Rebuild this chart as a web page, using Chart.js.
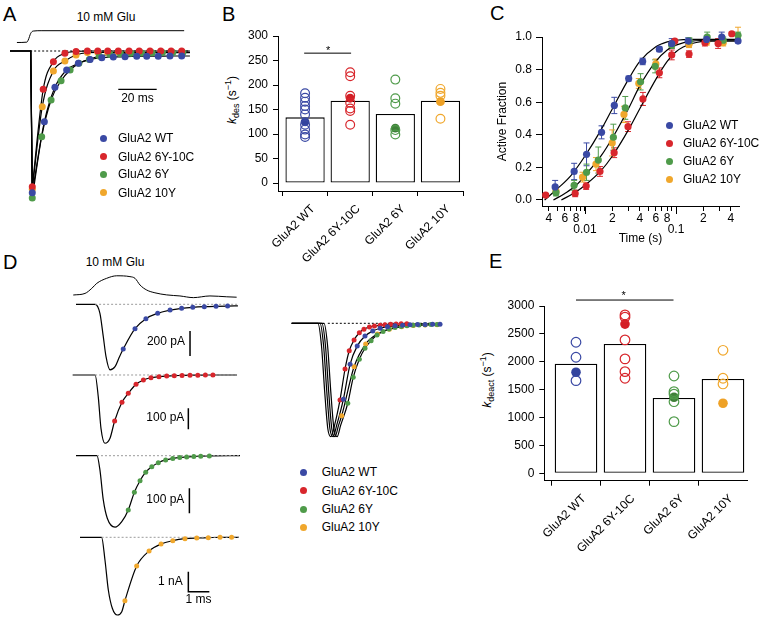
<!DOCTYPE html>
<html><head><meta charset="utf-8">
<script src="https://cdn.jsdelivr.net/npm/chart.js@4.4.1/dist/chart.umd.min.js"></script>
<style>
body{margin:0;background:#fff;width:760px;height:617px;position:relative;overflow:hidden;font-family:"Liberation Sans",Arial,Helvetica,sans-serif;color:#000}
canvas{position:absolute}
.pl{position:absolute;font-size:20px;line-height:20px}
.t12{position:absolute;font-size:12px;line-height:12px;white-space:nowrap}
.ctr{transform:translate(-50%,-50%)}
.ldot{position:absolute;width:7px;height:7px;border-radius:50%}
.rot{position:absolute;font-size:12px;line-height:12px;white-space:nowrap;transform:translate(-50%,-50%) rotate(-90deg)}
.sub{font-size:9px;position:relative;top:3px}
.sup{font-size:9px;position:relative;top:-5px}
</style></head><body>
<div class="pl" style="left:3px;top:4px">A</div>
<div class="pl" style="left:222px;top:4px">B</div>
<div class="pl" style="left:490px;top:3px">C</div>
<div class="pl" style="left:3px;top:252px">D</div>
<div class="pl" style="left:489px;top:251px">E</div>
<div class="t12 ctr" style="left:106px;top:17px">10 mM Glu</div>
<div class="t12 ctr" style="left:115px;top:262px">10 mM Glu</div>
<div class="rot" style="left:232px;top:100px"><i>k</i><span class="sub">des</span> (s<span class="sup">−1</span>)</div>
<div class="rot" style="left:487px;top:380px"><i>k</i><span class="sub">deact</span> (s<span class="sup">−1</span>)</div>
<script>
// ---------------- DATA ----------------
const groups = ['GluA2 WT', 'GluA2 6Y-10C', 'GluA2 6Y', 'GluA2 10Y'];

// Panel A: glutamate step (normalized) and normalized currents, time in ms
const aGluT = [-7.6, -2.4, -1.7, -0.4, 0.9, 5.0, 79.5];
const aGluV = [0, 0.03, 0.21, 0.78, 0.97, 1.0, 1.0];
const aWT_t = [0.4, 6.7, 12.2, 18.3, 24.4, 30.5, 36.6, 42.6, 48.7, 54.8, 60.0, 66.0, 72.1, 78.2];
const aWT_y = [-0.964, -0.481, -0.247, -0.129, -0.084, -0.057, -0.046, -0.040, -0.039, -0.036, -0.035, -0.035, -0.034, -0.034];
const a6Y10C_t = [0.4, 6.1, 11.4, 17.4, 23.2, 29.1, 34.5, 39.7, 45.2, 50.8, 56.1, 61.7, 67.3, 72.7, 78.2];
const a6Y10C_y = [-0.923, -0.261, -0.073, -0.016, -0.003, 0, 0, 0, 0, 0, 0, 0, 0, 0, 0];
const a6Y_t = [0.4, 5.3, 10.2, 15.4, 20.1, 24.7, 30.1, 35.3, 40.9, 46.3, 51.8, 57.3, 62.8, 68.2, 73.6, 78.8];
const a6Y_y = [-1.0, -0.583, -0.333, -0.202, -0.129, -0.084, -0.057, -0.034, -0.023, -0.018, -0.015, -0.013, -0.012, -0.011, -0.011, -0.011];
const a10Y_t = [0.4, 5.6, 11.4, 17.4, 23.2, 29.1, 34.5, 39.7, 45.2, 50.8];
const a10Y_y = [-0.94, -0.379, -0.136, -0.068, -0.027, -0.011, -0.009, -0.009, -0.009, -0.009];
const aTraceStart = -11.2, aTraceOnset = -0.4, aTraceEnd = 82.5;
const aBaseT = [-0.7, 82.5];
const aBarT = [45.2, 65.2];   // 20 ms scale bar
const aBarY = [-0.261, -0.261];

// Panel B: k_des (s^-1)
const kdesMean = [134, 168, 141, 168];
const kdesWT = [183, 174, 166, 157, 150, 140, 119, 109, 99, 94];
const kdes6Y10C = [226, 218, 178, 164, 152, 147, 119];
const kdes6Y = [211, 173, 162, 108, 99];
const kdes10Y = [192, 184, 178, 131];
const kdesExample = [125, 173, 112, 166];
const kdesTicks = [0, 50, 100, 150, 200, 250, 300];
const kdesSig = [265, 265];

// Panel C: recovery from desensitization
const cTicks = [0.004,0.005,0.006,0.007,0.008,0.009,0.01,0.02,0.03,0.04,0.05,0.06,0.07,0.08,0.09,0.1,0.2,0.3,0.4];
const cTickLabels = ['4','','6','','8','',['','0.01'],'2','','4','','6','','8','',['','0.1'],'2','','4'];
const cMajorTicks = [0.01, 0.1];
const cYTicks = [0, 0.2, 0.4, 0.6, 0.8, 1.0];
const cWT_t = [0.0047, 0.0076, 0.0104, 0.0152, 0.021, 0.0302, 0.043, 0.0656, 0.0897, 0.136, 0.217, 0.318, 0.48];
const cWT_f = [0.08, 0.175, 0.28, 0.415, 0.58, 0.745, 0.85, 0.925, 0.96, 0.975, 0.985, 1.0, 0.975];
const cWT_e = [0.04, 0.05, 0.07, 0.04, 0.05, 0.015, 0.02, 0.015, 0.03, 0.02, 0.02, 0.03, 0.01];
const c6Y10C_t = [0.0037, 0.0078, 0.0103, 0.0146, 0.0209, 0.0297, 0.0433, 0.0656, 0.0897, 0.097, 0.139, 0.208, 0.29, 0.41];
const c6Y10C_f = [0.03, 0.04, 0.085, 0.175, 0.29, 0.45, 0.62, 0.78, 0.89, 0.975, 0.895, 0.965, 0.96, 1.02];
const c6Y10C_e = [0.01, 0.02, 0.02, 0.03, 0.03, 0.03, 0.04, 0.03, 0.03, 0.01, 0.02, 0.02, 0.03, 0.01];
const c6Y_t = [0.0048, 0.0076, 0.0104, 0.014, 0.0205, 0.0277, 0.0408, 0.059, 0.0897, 0.14, 0.22, 0.33, 0.48];
const c6Y_f = [0.045, 0.09, 0.17, 0.245, 0.385, 0.565, 0.725, 0.82, 0.95, 0.975, 1.0, 0.98, 1.01];
const c6Y_e = [0.02, 0.03, 0.05, 0.08, 0.08, 0.07, 0.05, 0.04, 0.02, 0.02, 0.03, 0.02, 0.02];
const c10Y_t = [0.0048, 0.0094, 0.0132, 0.0199, 0.0268, 0.039, 0.06, 0.09, 0.139, 0.217, 0.33, 0.48];
const c10Y_f = [0.055, 0.14, 0.22, 0.35, 0.525, 0.715, 0.835, 0.955, 0.955, 0.97, 0.965, 1.04];
const c10Y_e = [0.02, 0.03, 0.04, 0.08, 0.05, 0.03, 0.03, 0.02, 0.02, 0.02, 0.02, 0.02];
const cFitWT_t = [0.0036, 0.005, 0.007, 0.01, 0.015, 0.02, 0.03, 0.04, 0.06, 0.08, 0.1, 0.15, 0.25, 0.48];
const cFitWT_f = [0.0, 0.07, 0.15, 0.27, 0.43, 0.56, 0.74, 0.85, 0.94, 0.97, 0.98, 0.985, 0.985, 0.985];
const cFitMid_t = [0.0045, 0.006, 0.008, 0.01, 0.015, 0.02, 0.03, 0.04, 0.06, 0.08, 0.1, 0.15, 0.25, 0.48];
const cFitMid_f = [0.0, 0.04, 0.09, 0.15, 0.27, 0.38, 0.56, 0.70, 0.85, 0.92, 0.95, 0.975, 0.98, 0.98];
const cFitRed_t = [0.0055, 0.008, 0.01, 0.015, 0.02, 0.03, 0.04, 0.06, 0.08, 0.1, 0.15, 0.25, 0.48];
const cFitRed_f = [0.0, 0.05, 0.09, 0.18, 0.27, 0.43, 0.56, 0.74, 0.85, 0.91, 0.96, 0.975, 0.975];

// Panel D: deactivation, time in ms, currents in pA
const dGluT = [0.06, 0.62, 0.94, 1.18, 1.65, 2.13, 2.76, 3.0, 3.24, 3.56, 3.95, 4.51, 5.14, 5.78, 6.57, 7.37, 7.84];
const dGluV = [0.095, 0.17, 0.41, 0.65, 0.89, 1.01, 0.97, 0.89, 0.57, 0.33, 0.2, 0.1, 0.05, -0.03, 0.05, 0.01, -0.01];
const dWT_onT = [0.19, 1.1, 1.33, 1.49, 1.62, 1.81, 2.05, 2.25];
const dWT_onI = [0, 0, -72, -259, -419, -524, -499, -424];
const dWT_t = [2.44, 3.0, 3.52, 4.08, 4.67, 5.22, 5.75, 6.3, 6.86, 7.41];
const dWT_i = [-358, -195, -115, -72, -46, -32, -24, -19, -16, -14];
const dWT_end = [7.9, -13];
const d6Y10C_onT = [0.03, 1.1, 1.25, 1.38, 1.57, 1.81];
const d6Y10C_onI = [0, 0, -103, -254, -325, -301];
const d6Y10C_t = [2.03, 2.38, 2.68, 3.05, 3.40, 3.76, 4.14, 4.51, 4.87, 5.24, 5.62, 5.99, 6.35, 6.71];
const d6Y10C_i = [-219, -130, -87, -44, -24, -13, -8, -5, -3, -2, -1, -1, 0, 0];
const d6Y10C_end = [7.86, 0];
const d6Y_onT = [0.19, 1.19, 1.33, 1.49, 1.68, 2.05, 2.37];
const d6Y_onI = [0, 0, -57, -177, -250, -286, -264];
const d6Y_t = [2.68, 2.97, 3.24, 3.51, 3.80, 4.11, 4.46, 4.80, 5.13, 5.46, 5.80, 6.13, 6.54];
const d6Y_i = [-217, -146, -100, -66, -44, -28, -17, -11, -7, -5, -3, -2, -1];
const d6Y_end = [8.0, 0];
const d10Y_onT = [0.38, 1.41, 1.57, 1.73, 1.92, 2.16, 2.37];
const d10Y_onI = [0, 0, -1135, -2635, -3550, -3885, -3720];
const d10Y_t = [2.52, 3.08, 3.67, 4.24, 4.80, 5.38, 5.94, 6.49, 7.05, 7.60];
const d10Y_i = [-3170, -1435, -685, -335, -170, -70, -35, -20, 0, 0];
const d10Y_end = [7.95, 0];
// scale bars (pA / ms)
const dBar1 = {t: 5.62, i: [-214, -414]};   // 200 pA
const dBar2 = {t: 5.54, i: [-158, -258]};   // 100 pA
const dBar3 = {t: 5.59, i: [-130, -230]};   // 100 pA
const dBar4 = {t: 5.54, i: [-1720, -2720], tEnd: 6.54}; // 1 nA, 1 ms

// Panel D overlay (normalized)
const ovOnsetY = [0, 0, -0.2, -0.6, -0.93, -1.0, -0.9];
const ovWT_onT = [0.08, 1.43, 1.6, 1.75, 1.9, 2.05, 2.22];
const ovWT_t = [2.54, 2.86, 3.2, 3.57, 3.94, 4.29, 4.64, 5.0, 5.36, 5.71, 6.07, 6.43, 6.79, 7.14];
const ovWT_y = [-0.67, -0.362, -0.2, -0.112, -0.068, -0.044, -0.03, -0.022, -0.017, -0.013, -0.011, -0.01, -0.009, -0.009];
const ov6Y10C_onT = [0.08, 1.33, 1.5, 1.65, 1.8, 1.95, 2.12];
const ov6Y10C_t = [2.38, 2.62, 2.82, 3.05, 3.30, 3.52, 3.78, 4.02, 4.29, 4.52, 4.79, 5.05, 5.29, 5.56];
const ov6Y10C_y = [-0.676, -0.403, -0.242, -0.147, -0.083, -0.053, -0.033, -0.024, -0.017, -0.012, -0.009, -0.007, -0.005, -0.004];
const ov6Y_onT = [0.08, 1.62, 1.79, 1.94, 2.09, 2.24, 2.41];
const ov6Y_t = [2.75, 3.01, 3.3, 3.57, 3.86, 4.14, 4.43, 4.71, 5.0, 5.29, 5.57, 5.86, 6.14, 6.43, 6.71, 7.0];
const ov6Y_y = [-0.705, -0.476, -0.317, -0.22, -0.153, -0.103, -0.072, -0.05, -0.037, -0.028, -0.022, -0.018, -0.015, -0.013, -0.011, -0.01];
const ov10Y_onT = [0.08, 1.52, 1.69, 1.84, 1.99, 2.14, 2.31];
const ov10Y_t = [2.46, 3.05, 3.6, 4.16, 4.73, 5.32, 5.87, 6.43, 7.0];
const ov10Y_y = [-0.815, -0.383, -0.183, -0.094, -0.053, -0.03, -0.02, -0.015, -0.012];
const ovEnd = 7.2;
const ovBaseT = [1.8, 7.2];

// Panel E: k_deact (s^-1)
const kdeactMean = [1965, 2320, 1350, 1690];
const kdeactWT = [2350, 2081, 1661];
const kdeact6Y10C = [2840, 2800, 2392, 2051, 1823, 1704];
const kdeact6Y = [1745, 1464, 1420, 1284, 926];
const kdeact10Y = [2206, 1704, 1602];
const kdeactExample = [1812, 2675, 1363, 1256];
const kdeactTicks = [0, 500, 1000, 1500, 2000, 2500, 3000];
const kdeactSig = [3107, 3107];

// ---------------- STYLE / HELPERS ----------------
const FONT = '"Liberation Sans", Arial, Helvetica, sans-serif';
const colors = ['#3a49a4', '#d8262c', '#4f9b4a', '#f0a72c'];
const fillColors = ['#33449e', '#d31f26', '#3f8139', '#eea126'];
Chart.defaults.font.family = FONT;
Chart.defaults.font.size = 12;
Chart.defaults.color = '#000';
Chart.defaults.plugins.legend.display = false;
Chart.defaults.plugins.tooltip.enabled = false;

function makeCanvas(left, top, w, h) {
  const c = document.createElement('canvas');
  c.width = w; c.height = h;
  c.style.left = left + 'px'; c.style.top = top + 'px';
  c.style.width = w + 'px'; c.style.height = h + 'px';
  document.body.appendChild(c);
  return c;
}
const pts = (xs, ys) => xs.map((x, i) => ({x, y: ys[i]}));
function lineDS(data, extra) {
  return Object.assign({type: 'line', data, borderColor: '#000', borderWidth: 1.2, pointRadius: 0,
    fill: false, cubicInterpolationMode: 'monotone', clip: false, order: 2}, extra || {});
}
function straightDS(data, extra) {
  return lineDS(data, Object.assign({cubicInterpolationMode: 'default', tension: 0}, extra || {}));
}
function dotDS(data, color, r, extra) {
  return Object.assign({type: 'line', data, showLine: false, pointRadius: r, pointBackgroundColor: color,
    pointBorderColor: color, pointBorderWidth: 0, backgroundColor: color, borderColor: color, clip: false, order: 1}, extra || {});
}
function openDS(data, color, r) {
  return {type: 'line', data, showLine: false, pointRadius: r, pointBackgroundColor: 'rgba(0,0,0,0)',
    pointBorderColor: color, pointBorderWidth: 1.2, borderColor: color, clip: false, order: 1};
}
function hidden(min, max, extra) { return Object.assign({type: 'linear', display: false, min, max, bounds: 'data'}, extra || {}); }
function notes(items) {
  return {id: 'notes', afterDatasetsDraw(chart) {
    const ctx = chart.ctx; ctx.save();
    for (const n of items) {
      const xs = chart.scales[n.xAxis || 'x'], ys = chart.scales[n.yAxis || 'y'];
      ctx.font = (n.size || 12) + 'px ' + FONT;
      ctx.fillStyle = '#000';
      ctx.textAlign = n.align || 'center';
      ctx.textBaseline = n.baseline || 'middle';
      ctx.fillText(n.text, xs.getPixelForValue(n.x), ys.getPixelForValue(n.y));
    }
    ctx.restore();
  }};
}
const errorBars = {id: 'errorBars', beforeDatasetsDraw(chart) {
  const ctx = chart.ctx, ys = chart.scales.y;
  chart.data.datasets.forEach((ds, i) => {
    if (!ds.errors) return;
    const meta = chart.getDatasetMeta(i);
    ctx.save(); ctx.strokeStyle = ds.borderColor; ctx.lineWidth = 1;
    meta.data.forEach((p, j) => {
      const v = ds.data[j].y, e = ds.errors[j];
      const y1 = ys.getPixelForValue(v - e), y2 = ys.getPixelForValue(v + e);
      ctx.beginPath();
      ctx.moveTo(p.x, y1); ctx.lineTo(p.x, y2);
      ctx.moveTo(p.x - 3, y1); ctx.lineTo(p.x + 3, y1);
      ctx.moveTo(p.x - 3, y2); ctx.lineTo(p.x + 3, y2);
      ctx.stroke();
    });
    ctx.restore();
  });
}};
// longer tick marks for the decades of the log axis
const majorTicks = {id: 'majorTicks', afterDraw(chart) {
  const xs = chart.scales.x, ctx = chart.ctx;
  ctx.save(); ctx.strokeStyle = '#000'; ctx.lineWidth = 1;
  cMajorTicks.forEach(v => {
    const px = Math.round(xs.getPixelForValue(v)) + 0.5;
    ctx.beginPath(); ctx.moveTo(px, xs.top); ctx.lineTo(px, xs.top + 8); ctx.stroke();
  });
  ctx.restore();
}};
const base = {responsive: false, devicePixelRatio: 1, animation: false, events: []};
function legend(cx, tx, ys) {
  groups.forEach((g, i) => {
    const d = document.createElement('div');
    d.className = 'ldot'; d.style.left = (cx - 3.5) + 'px'; d.style.top = (ys[i] - 3.5) + 'px';
    d.style.background = colors[i];
    document.body.appendChild(d);
    const t = document.createElement('div');
    t.className = 't12'; t.textContent = g; t.style.left = tx + 'px'; t.style.top = (ys[i] - 6) + 'px';
    document.body.appendChild(t);
  });
}

// ---------------- PANEL A ----------------
const aSeries = [[aWT_t, aWT_y], [a6Y10C_t, a6Y10C_y], [a6Y_t, a6Y_y], [a10Y_t, a10Y_y]];
new Chart(makeCanvas(8, 25, 185, 190), {
  type: 'line',
  data: {datasets: [
    lineDS(pts(aGluT, aGluV), {yAxisID: 'yg', borderWidth: 1}),
    straightDS(pts(aBaseT, [0, 0]), {borderDash: [2, 2], borderWidth: 1}),
    ...aSeries.map(s => straightDS(pts([aTraceStart, aTraceOnset, s[0][0]], [0, 0, s[1][0]]))),
    ...aSeries.map(s => lineDS(pts(s[0].concat([aTraceEnd]), s[1].concat([s[1][s[1].length - 1]])))),
    ...aSeries.map((s, i) => dotDS(pts(s[0], s[1]), colors[i], 3.5)),
    straightDS(pts(aBarT, aBarY), {borderWidth: 1.3})
  ]},
  options: Object.assign({}, base, {layout: {autoPadding: false, padding: 0},
    scales: {x: hidden(-12.24, 84.1), y: hidden(-1.1156, 0.1769), yg: hidden(-14.62, 1.483)}}),
  plugins: [notes([{x: 55.2, y: -0.322, text: '20 ms'}])]
});
legend(103, 118, [138.3, 156.7, 174.3, 192.7]);

// ---------------- BAR PANEL HELPER (B, E) ----------------
function barPanel(box, area, yMin, yMax, yTicks, mean, open, example, sig, sigX, star, xMin, xMax, bounds, r) {
  const [L, T, W, H] = box;
  const ds = [{type: 'bar', data: mean.map((v, i) => ({x: i, y: v})), backgroundColor: '#fff', borderColor: '#000',
    borderWidth: 1.3, borderSkipped: false, categoryPercentage: 1, barPercentage: 0.87, order: 5}];
  open.forEach((vals, i) => ds.push(openDS(vals.map(v => ({x: i, y: v})), colors[i], r)));
  example.forEach((v, i) => ds.push(dotDS([{x: i, y: v}], fillColors[i], r)));
  ds.push(straightDS(pts(sigX, sig), {borderWidth: 1}));
  return new Chart(makeCanvas(L, T, W, H), {
    type: 'bar',
    data: {datasets: ds},
    options: Object.assign({}, base, {
      layout: {autoPadding: false, padding: {left: 0, top: area.top - T, right: L + W - area.right, bottom: 0}},
      scales: {
        x: {type: 'linear', position: 'bottom', weight: 0, min: xMin, max: xMax, bounds: 'data', offset: false,
          afterBuildTicks: s => { s.ticks = bounds.map(v => ({value: v})); },
          ticks: {display: false},
          grid: {drawOnChartArea: false, drawTicks: true, tickLength: 5, color: '#000', offset: false},
          border: {display: true, color: '#000', width: 1},
          afterFit: s => { s.height = 5; }},
        x2: {type: 'linear', position: 'bottom', weight: 1, min: xMin, max: xMax, bounds: 'data', offset: false,
          afterBuildTicks: s => { s.ticks = groups.map((g, i) => ({value: i})); },
          ticks: {autoSkip: false, minRotation: 45, maxRotation: 45, padding: 6, labelOffset: 8, callback: v => groups[v]},
          grid: {display: false, drawTicks: false, offset: false}, border: {display: false},
          afterFit: s => { s.height = T + H - area.bottom - 5; }},
        y: {type: 'linear', min: yMin, max: yMax, bounds: 'data',
          afterBuildTicks: s => { s.ticks = yTicks.map(v => ({value: v})); },
          ticks: {padding: 5, callback: v => String(v)},
          grid: {drawOnChartArea: false, tickLength: 5, color: '#000'},
          border: {display: true, color: '#000', width: 1},
          afterFit: s => { s.width = area.left - L; }}
      }
    }),
    plugins: [notes([star])]
  });
}

// ---------------- PANEL B ----------------
barPanel([200, 0, 270, 278], {left: 278, top: 36, right: 463, bottom: 191}, -16.3, 300, kdesTicks,
  kdesMean, [kdesWT, kdes6Y10C, kdes6Y, kdes10Y], kdesExample, kdesSig, [-0.02, 1.02],
  {x: 0.51, y: 264, text: '*', baseline: 'alphabetic', size: 11}, -0.6, 3.5, [-0.5, 0.5, 1.5, 2.5, 3.5], 4.4);

// ---------------- PANEL E ----------------
barPanel([490, 270, 270, 300], {left: 544.3, top: 306, right: 747, bottom: 480.7}, -132.7, 3000, kdeactTicks,
  kdeactMean, [kdeactWT, kdeact6Y10C, kdeact6Y, kdeact10Y], kdeactExample, kdeactSig, [0, 1.99],
  {x: 0.97, y: 3130, text: '*', baseline: 'alphabetic', size: 11}, -0.647, 3.49, [-0.5, 0.5, 1.5, 2.5], 4.8);

// ---------------- PANEL C ----------------
const cSeries = [[cWT_t, cWT_f, cWT_e], [c6Y10C_t, c6Y10C_f, c6Y10C_e], [c6Y_t, c6Y_f, c6Y_e], [c10Y_t, c10Y_f, c10Y_e]];
new Chart(makeCanvas(470, 0, 290, 262), {
  type: 'line',
  data: {datasets: [
    lineDS(pts(cFitWT_t, cFitWT_f)),
    lineDS(pts(cFitMid_t, cFitMid_f)),
    lineDS(pts(cFitRed_t, cFitRed_f)),
    ...cSeries.map((s, i) => dotDS(pts(s[0], s[1]), colors[i], 3.6, {errors: s[2]}))
  ]},
  options: Object.assign({}, base, {
    layout: {autoPadding: false, padding: {left: 0, top: 37, right: 21, bottom: 0}},
    scales: {
      x: {type: 'logarithmic', min: 0.00337, max: 0.492, bounds: 'data',
        afterBuildTicks: s => { s.ticks = cTicks.map(v => ({value: v})); },
        ticks: {autoSkip: false, minRotation: 0, maxRotation: 0, padding: 2, font: {size: 12, lineHeight: 0.95},
          callback: (v, i) => cTickLabels[i]},
        grid: {drawOnChartArea: false, tickLength: 5, color: '#000'},
        border: {display: true, color: '#000'},
        title: {display: true, text: 'Time (s)', padding: {top: 0, bottom: 16}},
        afterFit: s => { s.height = 56; }},
      y: {type: 'linear', min: -0.037, max: 1.0, bounds: 'data',
        afterBuildTicks: s => { s.ticks = cYTicks.map(v => ({value: v})); },
        ticks: {padding: 4, callback: v => Number(v).toFixed(1)},
        grid: {drawOnChartArea: false, tickLength: 6, color: '#000'},
        border: {display: true, color: '#000'},
        title: {display: true, text: 'Active Fraction', padding: {top: 25, bottom: 0}},
        afterFit: s => { s.width = 72; }}
    }
  }),
  plugins: [errorBars, majorTicks]
});
legend(669, 683, [125, 143, 161, 179]);

// ---------------- PANEL D (individual traces) ----------------
const dTraces = [
  {on: [dWT_onT, dWT_onI], fit: [dWT_t, dWT_i], end: dWT_end, ax: 'y1'},
  {on: [d6Y10C_onT, d6Y10C_onI], fit: [d6Y10C_t, d6Y10C_i], end: d6Y10C_end, ax: 'y2'},
  {on: [d6Y_onT, d6Y_onI], fit: [d6Y_t, d6Y_i], end: d6Y_end, ax: 'y3'},
  {on: [d10Y_onT, d10Y_onI], fit: [d10Y_t, d10Y_i], end: d10Y_end, ax: 'y4'}
];
new Chart(makeCanvas(72, 262, 168, 355), {
  type: 'line',
  data: {datasets: [
    lineDS(pts(dGluT, dGluV), {yAxisID: 'yg', borderWidth: 1}),
    ...dTraces.map(tr => straightDS(pts([tr.on[0][1], tr.end[0]], [0, 0]), {yAxisID: tr.ax, borderDash: [2, 2], borderWidth: 1, borderColor: '#9a9a9a'})),
    ...dTraces.map(tr => lineDS(pts(tr.on[0].concat(tr.fit[0], [tr.end[0]]), tr.on[1].concat(tr.fit[1], [tr.end[1]])), {yAxisID: tr.ax})),
    ...dTraces.map((tr, i) => dotDS(pts(tr.fit[0], tr.fit[1]), colors[i], 2.5, {yAxisID: tr.ax})),
    straightDS(pts([dBar1.t, dBar1.t], dBar1.i), {yAxisID: 'y1', borderWidth: 1.5}),
    straightDS(pts([dBar2.t, dBar2.t], dBar2.i), {yAxisID: 'y2', borderWidth: 1.5}),
    straightDS(pts([dBar3.t, dBar3.t], dBar3.i), {yAxisID: 'y3', borderWidth: 1.5}),
    straightDS(pts([dBar4.t, dBar4.t, dBar4.tEnd], [dBar4.i[0], dBar4.i[1], dBar4.i[1]]), {yAxisID: 'y4', borderWidth: 1.5})
  ]},
  options: Object.assign({}, base, {layout: {autoPadding: false, padding: 0},
    scales: {x: hidden(0, 8), yg: hidden(-15.24, 1.667), y1: hidden(-2501.6, 338.4), y2: hidden(-1152.4, 538.1),
      y3: hidden(-645.2, 774.8), y4: hidden(-3985, 13765)}}),
  plugins: [notes([
    {x: 5.38, y: -299, yAxis: 'y1', text: '200 pA', align: 'right'},
    {x: 5.35, y: -201, yAxis: 'y2', text: '100 pA', align: 'right'},
    {x: 5.35, y: -177, yAxis: 'y3', text: '100 pA', align: 'right'},
    {x: 5.27, y: -2220, yAxis: 'y4', text: '1 nA', align: 'right'},
    {x: 6.02, y: -3135, yAxis: 'y4', text: '1 ms'}
  ])]
});

// ---------------- PANEL D (overlay) ----------------
const ovSeries = [[ovWT_onT, ovWT_t, ovWT_y], [ov6Y10C_onT, ov6Y10C_t, ov6Y10C_y], [ov6Y_onT, ov6Y_t, ov6Y_y], [ov10Y_onT, ov10Y_t, ov10Y_y]];
new Chart(makeCanvas(288, 305, 160, 145), {
  type: 'line',
  data: {datasets: [
    straightDS(pts(ovBaseT, [0, 0]), {borderDash: [2, 2], borderWidth: 1}),
    ...ovSeries.map(s => lineDS(pts(s[0].concat(s[1], [ovEnd]), ovOnsetY.concat(s[2], [s[2][s[2].length - 1]])))),
    ...ovSeries.map((s, i) => dotDS(pts(s[1], s[2]), colors[i], 2.5))
  ]},
  options: Object.assign({}, base, {layout: {autoPadding: false, padding: 0},
    scales: {x: hidden(-0.095, 7.52), y: hidden(-1.1173, 0.1614)}})
});
legend(303.3, 321.7, [472.3, 490.7, 509, 527.3]);
</script>
</body></html>
